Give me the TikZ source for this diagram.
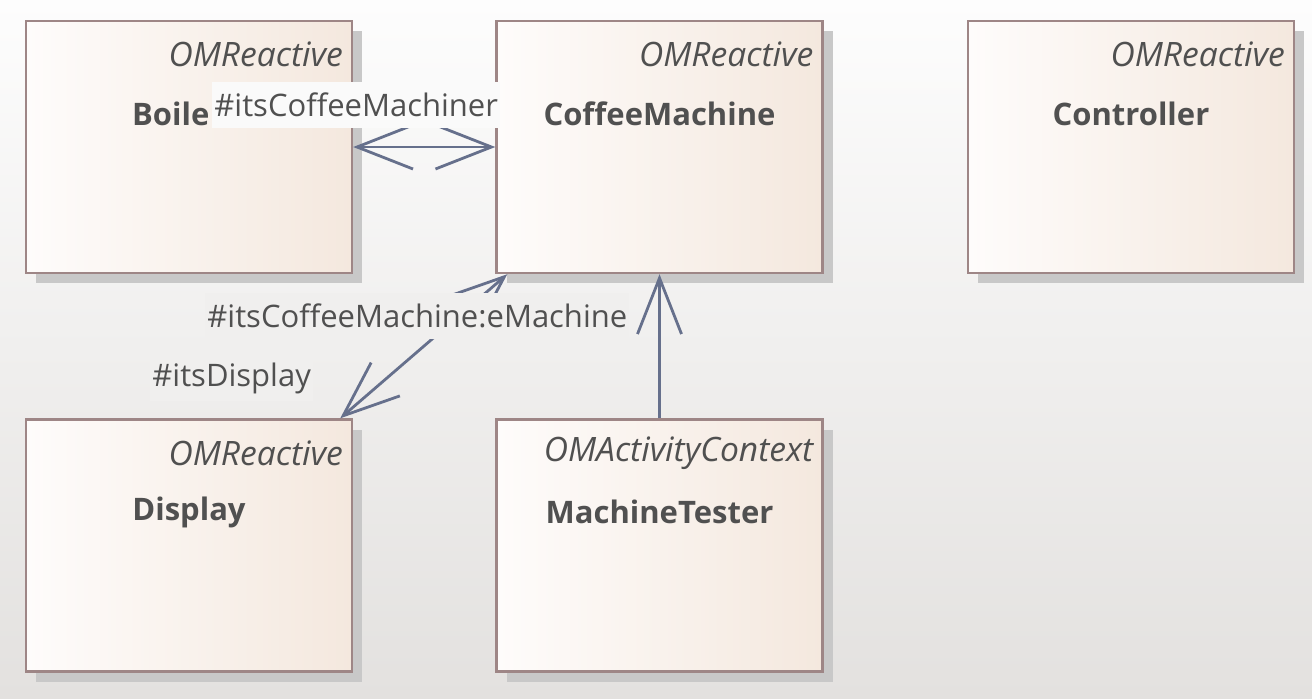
\documentclass[tikz,border=0pt]{standalone}
\usepackage{fontspec}
\setmainfont{Open Sans}
\usetikzlibrary{arrows.meta,calc,positioning,shadows}
\definecolor{boxborder}{RGB}{158,134,134}
\definecolor{boxleft}{RGB}{254,252,251}
\definecolor{boxright}{RGB}{244,232,222}
\definecolor{shadowgray}{RGB}{200,200,200}
\definecolor{bgtop}{RGB}{253,253,253}
\definecolor{bgbottom}{RGB}{227,225,223}
\definecolor{bgmid}{RGB}{240,239,238}
\definecolor{textgray}{RGB}{80,80,80}
\definecolor{assocblue}{RGB}{102,112,140}
\tikzset{
  umlbox/.style={draw=boxborder, line width=1.2pt, left color=boxleft, right color=boxright,
    minimum width=163pt, minimum height=126pt, inner sep=0pt,
    drop shadow={shadow xshift=5pt, shadow yshift=-5pt, fill=shadowgray, opacity=1}},
  stereo/.style={text=textgray, font=\fontsize{16.8}{19}\selectfont\itshape, inner sep=0pt, anchor=east},
  classname/.style={text=textgray, font=\fontsize{15.5}{18}\selectfont\bfseries, inner sep=0pt},
  rolelabel/.style={text=textgray, font=\fontsize{15.5}{18}\selectfont, inner sep=1pt, minimum height=23pt},
  assoc/.style={draw=assocblue, line width=1.4pt},
  barb/.tip={Straight Barb[length=28pt, width=22pt, line width=1.4pt]}
}
\begin{document}
\begin{tikzpicture}[x=0.5pt, y=-0.5pt]
  % background
  \shade[top color=bgtop, bottom color=bgbottom] (0,0) rectangle (1312,698);
  \useasboundingbox (0,0) rectangle (1312,698);
  % classes
  \node[umlbox] (boiler) at (189,147) {};
  \node[umlbox] (machine) at (659.5,147) {};
  \node[umlbox] (controller) at (1131,147) {};
  \node[umlbox] (display) at (189,545.5) {};
  \node[umlbox] (tester) at (659.5,545.5) {};
  % stereotypes and names
  \foreach \cls/\st in {boiler/OMReactive, machine/OMReactive, controller/OMReactive,
      display/OMReactive, tester/OMActivityContext}
    \node[stereo] (\cls st) at ($(\cls.north east)+(-10,35)$) {\st};
  \foreach \cls/\nm in {machine/CoffeeMachine, controller/Controller,
      display/Display, tester/MachineTester}
    \node[classname] (\cls nm) at ($(\cls.north)+(0,94)$) {\nm};
  \node[classname, anchor=east] (boilernm) at ($(boiler.north west)+(185,94)$) {Boile};
  % associations
  \draw[assoc, barb-barb] (boiler.east) -- (machine.west);
  \draw[assoc, barb-barb] ([xshift=-6.5pt]display.north east) -- ([xshift=6pt]machine.south west);
  \draw[assoc, -barb] (tester.north) -- (machine.south);
  % role labels
  \node[rolelabel, fill=white!98!black, anchor=west] (rboiler) at (212,105) {\#itsCoffeeMachiner};
  \node[rolelabel, fill=bgmid, anchor=west] (rmachine) at (205,316) {\#itsCoffeeMachine:eMachine};
  \node[rolelabel, fill=bgmid, anchor=west] (rdisplay) at (150,378) {\#itsDisplay};
\end{tikzpicture}
\end{document}
